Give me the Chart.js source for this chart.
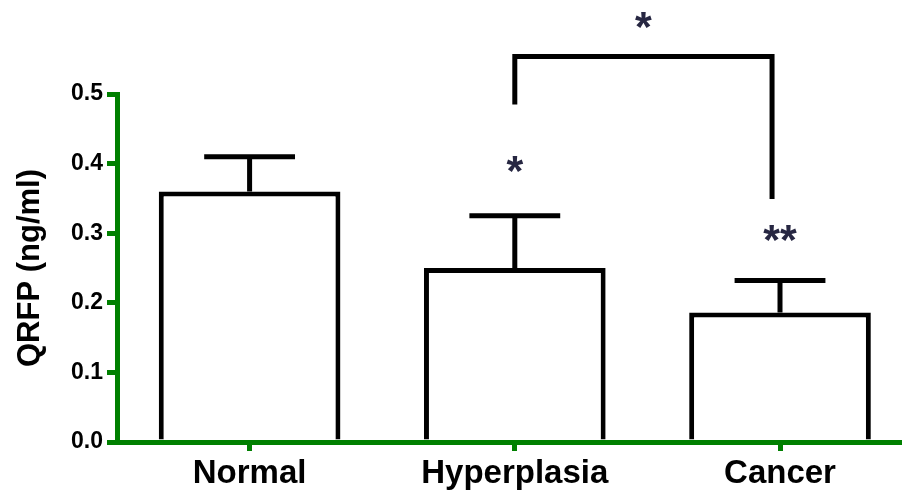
<!DOCTYPE html>
<html>
<head>
<meta charset="utf-8">
<script src="https://cdn.jsdelivr.net/npm/chart.js@4.4.0/dist/chart.umd.min.js"></script>
<style>
  html, body { margin: 0; padding: 0; background: #fff; overflow: hidden; }
  canvas { display: block; }
</style>
</head>
<body>
<canvas id="chart" width="902" height="490"></canvas>
<script>
// Group means and SEM of serum QRFP
const categories = ['Normal', 'Hyperplasia', 'Cancer'];
const meanQRFP = [0.36, 0.25, 0.186];
const semQRFP = [0.05, 0.075, 0.046];
const yTicks = [0, 0.1, 0.2, 0.3, 0.4, 0.5];

// Significance vs Normal, placed above each group
const groupMarks = ['', '*', '**'];
const groupMarkY = [null, 0.4, 0.3];

// Hyperplasia vs Cancer comparison bracket
const bracketFrom = 1;
const bracketTo = 1.97;
const bracketTop = 0.554;
const bracketFromEnd = 0.485;
const bracketToEnd = 0.349;
const bracketMark = '*';
const bracketMarkY = 0.607;

const GREEN = '#008000';
const MARK_COLOR = '#272742';
const FONT = "'Liberation Sans', Arial, Helvetica, sans-serif";

function drawMark(ctx, text, cx, cy) {
  ctx.font = `bold 43px ${FONT}`;
  ctx.fillStyle = MARK_COLOR;
  ctx.textAlign = 'center';
  ctx.textBaseline = 'alphabetic';
  const m = ctx.measureText(text);
  const base = cy + (m.actualBoundingBoxAscent - m.actualBoundingBoxDescent) / 2;
  ctx.fillText(text, cx, base);
}

const errorBars = {
  id: 'errorBars',
  afterDatasetsDraw(chart) {
    const { ctx, scales: { y } } = chart;
    const meta = chart.getDatasetMeta(0);
    ctx.save();
    ctx.strokeStyle = '#000';
    ctx.lineWidth = 5;
    ctx.lineCap = 'butt';
    meta.data.forEach((bar, i) => {
      const top = y.getPixelForValue(meanQRFP[i] + semQRFP[i]);
      const half = bar.width * 0.25;
      ctx.beginPath();
      ctx.moveTo(bar.x, bar.y);
      ctx.lineTo(bar.x, top);
      ctx.moveTo(bar.x - half, top);
      ctx.lineTo(bar.x + half, top);
      ctx.stroke();
    });
    ctx.restore();
  }
};

const significance = {
  id: 'significance',
  afterDraw(chart) {
    const { ctx, scales: { x, y } } = chart;
    ctx.save();
    groupMarks.forEach((mark, i) => {
      if (mark) drawMark(ctx, mark, x.getPixelForValue(i), y.getPixelForValue(groupMarkY[i]));
    });
    const xl = x.getPixelForValue(bracketFrom);
    const xr = x.getPixelForValue(bracketTo);
    const yt = y.getPixelForValue(bracketTop);
    ctx.strokeStyle = '#000';
    ctx.lineWidth = 5;
    ctx.lineJoin = 'miter';
    ctx.lineCap = 'butt';
    ctx.beginPath();
    ctx.moveTo(xl, y.getPixelForValue(bracketFromEnd));
    ctx.lineTo(xl, yt);
    ctx.lineTo(xr, yt);
    ctx.lineTo(xr, y.getPixelForValue(bracketToEnd));
    ctx.stroke();
    drawMark(ctx, bracketMark, (xl + xr) / 2, y.getPixelForValue(bracketMarkY));
    ctx.restore();
  }
};

new Chart(document.getElementById('chart'), {
  type: 'bar',
  data: {
    datasets: [{
      data: categories.map((_, i) => ({ x: i, y: meanQRFP[i] })),
      backgroundColor: '#ffffff',
      borderColor: '#000000',
      borderWidth: 5,
      barPercentage: 0.685,
      categoryPercentage: 1
    }]
  },
  options: {
    responsive: false,
    animation: false,
    layout: { padding: { top: 94, right: 0, bottom: 0, left: 0 } },
    plugins: { legend: { display: false }, tooltip: { enabled: false } },
    scales: {
      x: {
        type: 'linear',
        min: -0.5,
        max: 2.46,
        offset: false,
        z: 1,
        afterBuildTicks: s => { s.ticks = categories.map((_, i) => ({ value: i })); },
        afterFit: s => { s.height = 48; },
        grid: { drawOnChartArea: false, drawTicks: true, tickLength: 9, color: GREEN, lineWidth: 5, offset: false },
        border: { display: true, color: GREEN, width: 5 },
        ticks: {
          color: '#000',
          font: { family: FONT, size: 33, weight: 'bold' },
          padding: 3,
          autoSkip: false,
          maxRotation: 0,
          callback: v => categories[v]
        }
      },
      y: {
        min: 0,
        max: 0.5,
        afterBuildTicks: s => { s.ticks = yTicks.map(v => ({ value: v })); },
        afterFit: s => { s.width = 117; },
        grid: { drawOnChartArea: false, drawTicks: true, tickLength: 10, color: GREEN, lineWidth: 5 },
        border: { display: true, color: GREEN, width: 5 },
        ticks: {
          color: '#000',
          font: { family: FONT, size: 23, weight: 'bold' },
          padding: 4,
          callback: v => Number(v).toFixed(1)
        },
        title: {
          display: true,
          text: 'QRFP (ng/ml)',
          color: '#000',
          font: { family: FONT, size: 31, weight: 'bold' },
          padding: { top: 12, bottom: 0 }
        }
      }
    }
  },
  plugins: [errorBars, significance]
});
</script>
</body>
</html>
